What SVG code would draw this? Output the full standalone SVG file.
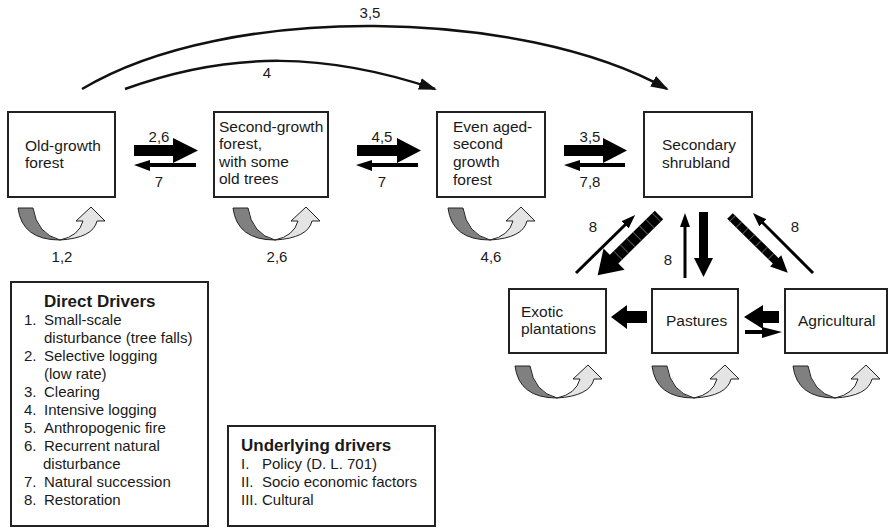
<svg xmlns="http://www.w3.org/2000/svg" xmlns:xlink="http://www.w3.org/1999/xlink" width="889" height="528" viewBox="0 0 889 528">
<style>
.box{fill:#fff;stroke:#222;stroke-width:2}
.t{font-family:"Liberation Sans",Arial,sans-serif;font-size:15px;fill:#1a1a1a}
.n{font-size:15.5px}
.c{text-anchor:middle}
.b{font-weight:bold;font-size:17px}
.arc{fill:none;stroke:#111;stroke-width:2.5}
.blk{fill:#000}
.thin{stroke:#000;stroke-width:3;fill:none}
.hatch{fill:none;stroke:#555}
.dark{fill:#808080;stroke:#222;stroke-width:1}
.light{fill:#e4e4e4;stroke:#222;stroke-width:1}
</style>
<defs>
<marker id="ah" markerUnits="userSpaceOnUse" markerWidth="18" markerHeight="12" viewBox="0 0 18 12" refX="16" refY="6" orient="auto"><path d="M0,0 L18,6 L0,12 Z" fill="#111"/></marker>
<marker id="th" markerUnits="userSpaceOnUse" markerWidth="14" markerHeight="10" viewBox="0 0 14 10" refX="4" refY="5" orient="auto"><path d="M0,0 L14,5 L0,10 Z" fill="#000"/></marker>
<g id="loop">
<path class="dark" d="M18,208 L33,208 Q37,234 60,240 Q22,240 18,208 Z"/>
<path class="light" d="M60,240 Q93,238 97,221 L105,221 L91,207 L76,221 L83,221 Q79,236 60,240 Z"/>
</g>
</defs>

<g id="connectors">
<path class="arc" d="M82,89 C227,2 522,8 667,89" marker-end="url(#ah)"/>
<text class="t c" x="370" y="18">3,5</text>
<path class="arc" d="M125,89 C232,50 328,53 435,89" marker-end="url(#ah)"/>
<text class="t c" x="267" y="78">4</text>

<polygon class="blk" points="134,145 173,145 173,138 198,150.5 173,163 173,156 134,156"/>
<polygon class="blk" points="196,163 150,163 150,160 134,165 150,171 150,167 196,167"/>
<text class="t c" x="159" y="142">2,6</text>
<text class="t c" x="159" y="187">7</text>

<polygon class="blk" points="357,145 397,145 397,138 421,150.5 397,163 397,156 357,156"/>
<polygon class="blk" points="418,163 372,163 372,160 356,165 372,171 372,167 418,167"/>
<text class="t c" x="382" y="142">4,5</text>
<text class="t c" x="382" y="187">7</text>

<polygon class="blk" points="564,145 603,145 603,138 627,150.5 603,163 603,156 564,156"/>
<polygon class="blk" points="625,163 580,163 580,160 564,165 580,171 580,167 625,167"/>
<text class="t c" x="590" y="142">3,5</text>
<text class="t c" x="590" y="187">7,8</text>

<line class="thin" x1="576" y1="273" x2="628" y2="222" marker-end="url(#th)"/>
<text class="t c" x="593" y="232">8</text>

<g transform="translate(659,215) rotate(135.5)">
<rect class="blk" x="0" y="-6" width="64" height="12"/>
<line class="hatch" x1="3" y1="0" x2="62" y2="0" stroke-width="12" stroke-dasharray="1 8"/>
<polygon class="blk" points="63,-15 86,0 63,15"/>
</g>

<line class="thin" x1="685" y1="278" x2="685" y2="223" marker-end="url(#th)"/>
<text class="t c" x="668" y="265">8</text>
<polygon class="blk" points="699,212 708,212 708,258 713,258 703.5,277 694,258 699,258"/>

<g transform="translate(730,216) rotate(44.5)">
<rect class="blk" x="0" y="-4" width="66" height="8"/>
<line class="hatch" x1="3" y1="0" x2="64" y2="0" stroke-width="8" stroke-dasharray="1 8"/>
<polygon class="blk" points="64,-8 81,0 64,8"/>
</g>

<line class="thin" x1="813" y1="273" x2="760" y2="220" marker-end="url(#th)"/>
<text class="t c" x="795" y="232">8</text>

<polygon class="blk" points="647,311 627,311 627,305 611,317 627,329 627,323 647,323"/>
<polygon class="blk" points="779,311 763,311 763,305 744,317 763,329 763,323 779,323"/>
<polygon class="blk" points="745,330 762,330 762,327 782,332 762,338 762,334 745,334"/>
</g>

<g id="n-oldgrowth">
<rect class="box" x="8" y="112" width="107" height="85"/>
<text class="t n" x="25" y="151">Old-growth</text>
<text class="t n" x="25" y="168">forest</text>
<use xlink:href="#loop"/>
<text class="t c" x="62" y="262">1,2</text>
</g>

<g id="n-secondgrowth">
<rect class="box" x="214" y="112" width="114" height="85"/>
<text class="t n" x="219" y="132">Second-growth</text>
<text class="t n" x="219" y="149">forest,</text>
<text class="t n" x="219" y="167">with some</text>
<text class="t n" x="219" y="184">old trees</text>
<use xlink:href="#loop" transform="translate(215,0)"/>
<text class="t c" x="277" y="262">2,6</text>
</g>

<g id="n-evenaged">
<rect class="box" x="437" y="112" width="108" height="85"/>
<text class="t n" x="453" y="132">Even aged-</text>
<text class="t n" x="453" y="149">second</text>
<text class="t n" x="453" y="167">growth</text>
<text class="t n" x="453" y="185">forest</text>
<use xlink:href="#loop" transform="translate(430,0)"/>
<text class="t c" x="491" y="262">4,6</text>
</g>

<g id="n-shrubland">
<rect class="box" x="644" y="112" width="108" height="85"/>
<text class="t n" x="662" y="150">Secondary</text>
<text class="t n" x="662" y="168">shrubland</text>
</g>

<g id="n-exotic">
<rect class="box" x="509" y="289" width="97" height="64"/>
<text class="t n" x="521" y="317">Exotic</text>
<text class="t n" x="521" y="334">plantations</text>
<use xlink:href="#loop" transform="translate(497,158)"/>
</g>

<g id="n-pastures">
<rect class="box" x="652" y="289" width="86" height="64"/>
<text class="t n" x="666" y="326">Pastures</text>
<use xlink:href="#loop" transform="translate(634,158)"/>
</g>

<g id="n-agricultural">
<rect class="box" x="785" y="289" width="102" height="64"/>
<text class="t n" x="798" y="326">Agricultural</text>
<use xlink:href="#loop" transform="translate(775,158)"/>
</g>

<g id="legend-direct">
<rect class="box" x="11" y="282" width="197" height="244"/>
<text class="t b" x="44" y="307">Direct Drivers</text>
<text class="t" x="24" y="325">1.</text><text class="t" x="44" y="325">Small-scale</text>
<text class="t" x="44" y="343">disturbance (tree falls)</text>
<text class="t" x="24" y="361">2.</text><text class="t" x="44" y="361">Selective logging</text>
<text class="t" x="44" y="379">(low rate)</text>
<text class="t" x="24" y="397">3.</text><text class="t" x="44" y="397">Clearing</text>
<text class="t" x="24" y="415">4.</text><text class="t" x="44" y="415">Intensive logging</text>
<text class="t" x="24" y="433">5.</text><text class="t" x="44" y="433">Anthropogenic fire</text>
<text class="t" x="24" y="451">6.</text><text class="t" x="44" y="451">Recurrent natural</text>
<text class="t" x="43" y="469">disturbance</text>
<text class="t" x="24" y="487">7.</text><text class="t" x="44" y="487">Natural succession</text>
<text class="t" x="24" y="505">8.</text><text class="t" x="44" y="505">Restoration</text>
</g>

<g id="legend-underlying">
<rect class="box" x="228" y="426" width="207" height="100"/>
<text class="t b" x="241" y="451">Underlying drivers</text>
<text class="t" x="241" y="469">I.</text><text class="t" x="262" y="469">Policy (D. L. 701)</text>
<text class="t" x="241" y="487">II.</text><text class="t" x="262" y="487">Socio economic factors</text>
<text class="t" x="241" y="505">III.</text><text class="t" x="262" y="505">Cultural</text>
</g>
</svg>
